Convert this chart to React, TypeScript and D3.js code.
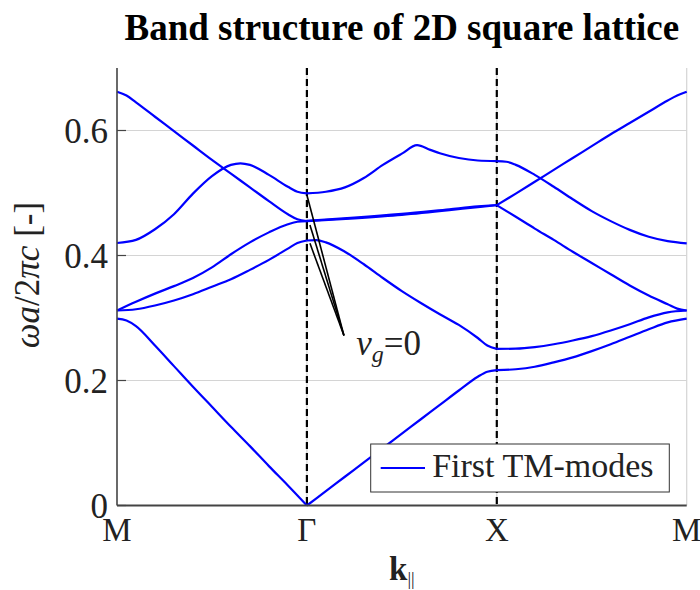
import React from "react";
import * as d3 from "d3";

// high-symmetry points along the path
const kLabels = ["M", "Γ", "X", "M"];
const yTicks = [0, 0.2, 0.4, 0.6];

// bands on each segment, as [t along segment, ωa/2πc]
const segMG = [
  [[0, 0.299], [0.05, 0.296], [0.1, 0.287], [0.2, 0.256], [0.3, 0.223], [0.4, 0.19], [0.5, 0.158], [0.6, 0.126], [0.7, 0.095], [0.8, 0.063], [0.9, 0.032], [1, 0]],
  [[0, 0.312], [0.1, 0.314], [0.2, 0.32], [0.3, 0.328], [0.4, 0.338], [0.5, 0.35], [0.6, 0.362], [0.7, 0.377], [0.8, 0.393], [0.9, 0.411], [0.95, 0.42], [1, 0.424]],
  [[0, 0.312], [0.1, 0.326], [0.2, 0.339], [0.3, 0.351], [0.4, 0.364], [0.5, 0.381], [0.6, 0.402], [0.7, 0.421], [0.8, 0.437], [0.9, 0.45], [0.95, 0.454], [1, 0.455]],
  [[0, 0.42], [0.1, 0.425], [0.2, 0.442], [0.3, 0.466], [0.4, 0.499], [0.5, 0.527], [0.6, 0.545], [0.65, 0.5475], [0.7, 0.545], [0.8, 0.529], [0.9, 0.51], [0.95, 0.502], [1, 0.4995]],
  [[0, 0.662], [0.05, 0.656], [0.1, 0.645], [0.2, 0.622], [0.3, 0.599], [0.4, 0.576], [0.5, 0.553], [0.6, 0.531], [0.7, 0.509], [0.8, 0.487], [0.9, 0.466], [0.95, 0.458], [1, 0.455]],
];

const segGX = [
  [[0, 0], [0.1, 0.023], [0.2, 0.046], [0.3, 0.069], [0.4, 0.092], [0.5, 0.115], [0.6, 0.138], [0.7, 0.161], [0.8, 0.184], [0.9, 0.206], [0.95, 0.214], [1, 0.2165]],
  [[0, 0.424], [0.05, 0.4245], [0.1, 0.421], [0.2, 0.406], [0.3, 0.386], [0.4, 0.364], [0.5, 0.343], [0.6, 0.324], [0.7, 0.306], [0.8, 0.289], [0.9, 0.268], [0.95, 0.256], [1, 0.2505]],
  [[0, 0.455], [0.25, 0.4595], [0.5, 0.465], [0.75, 0.4725], [0.9, 0.4775], [1, 0.4805]],
  [[0, 0.4555], [0.25, 0.4605], [0.5, 0.4665], [0.75, 0.474], [0.9, 0.4785], [1, 0.4808]],
  [[0, 0.4995], [0.1, 0.502], [0.2, 0.509], [0.3, 0.524], [0.4, 0.545], [0.5, 0.563], [0.58, 0.5765], [0.65, 0.569], [0.7, 0.5635], [0.8, 0.556], [0.9, 0.552], [1, 0.551]],
];

const segXM = [
  [[0, 0.2165], [0.1, 0.218], [0.2, 0.222], [0.3, 0.229], [0.4, 0.237], [0.5, 0.247], [0.6, 0.258], [0.7, 0.27], [0.8, 0.282], [0.9, 0.293], [1, 0.299]],
  [[0, 0.2505], [0.1, 0.251], [0.2, 0.2535], [0.3, 0.258], [0.4, 0.264], [0.5, 0.271], [0.6, 0.28], [0.7, 0.29], [0.8, 0.301], [0.9, 0.309], [1, 0.312]],
  [[0, 0.4805], [0.1, 0.462], [0.2, 0.443], [0.3, 0.425], [0.4, 0.406], [0.5, 0.388], [0.6, 0.37], [0.7, 0.352], [0.8, 0.336], [0.9, 0.322], [0.95, 0.315], [1, 0.312]],
  [[0, 0.4805], [0.1, 0.499], [0.2, 0.518], [0.3, 0.537], [0.4, 0.556], [0.5, 0.575], [0.6, 0.594], [0.7, 0.612], [0.8, 0.63], [0.9, 0.648], [0.95, 0.656], [1, 0.662]],
  [[0, 0.551], [0.05, 0.55], [0.1, 0.545], [0.2, 0.529], [0.3, 0.51], [0.4, 0.49], [0.5, 0.471], [0.6, 0.455], [0.7, 0.441], [0.8, 0.43], [0.9, 0.423], [1, 0.4195]],
];

// v_g = 0 arrow: tips at Γ and common tail, in (k, ω)
const vgTips = [[1.0, 0.4968], [1.016, 0.4488], [1.016, 0.4195]];
const vgTail = [1.195, 0.272];
const vgText = [1.26, 0.241];

const W = 700;
const H = 590;
const margin = { top: 68, right: 13.3, bottom: 84.5, left: 117 };
const iw = W - margin.left - margin.right;
const ih = H - margin.top - margin.bottom;
const FONT = "Liberation Serif, DejaVu Serif, serif";
const BLUE = "#0000ff";
const TXT = { fontFamily: FONT };

export default function App() {
  const x = d3.scaleLinear().domain([0, 3]).range([0, iw]);
  const y = d3.scaleLinear().domain([0, 0.7]).range([ih, 0]);

  const segments = [segMG, segGX, segXM];
  const paths: string[] = [];
  segments.forEach((seg, si) => {
    const line = d3
      .line<number[]>()
      .x((d) => x(si + d[0]))
      .y((d) => y(d[1]))
      .curve(d3.curveMonotoneX);
    seg.forEach((band) => paths.push(line(band) as string));
  });

  const legW = 298.6;
  const legH = 48;
  const legX = iw - 17.4 - legW;
  const legY = ih - 13.5 - legH;

  return (
    <svg
      width={W}
      height={H}
      style={{ position: "absolute", left: 0, top: 0, background: "#fff" }}
    >
      <text x={margin.left + iw / 2} y={39.5} textAnchor="middle" fontWeight="bold" fontSize={37} style={TXT}>
        Band structure of 2D square lattice
      </text>
      <g transform={`translate(${margin.left},${margin.top})`}>
        {/* grid */}
        {yTicks.slice(1).map((t) => (
          <line key={"gy" + t} x1={0} x2={iw} y1={y(t)} y2={y(t)} stroke="#d4d4d4" strokeWidth={1.2} />
        ))}
        {kLabels.slice(1).map((_, i) => (
          <line key={"gx" + i} x1={x(i + 1)} x2={x(i + 1)} y1={0} y2={ih} stroke="#d4d4d4" strokeWidth={1.2} />
        ))}
        {/* dashed symmetry lines */}
        {[1, 2].map((k) => (
          <line key={"d" + k} x1={x(k)} x2={x(k)} y1={0} y2={ih} stroke="#000" strokeWidth={2.2} strokeDasharray="7,4" />
        ))}
        {/* bands */}
        {paths.map((p, i) => (
          <path key={i} d={p} fill="none" stroke={BLUE} strokeWidth={2.2} />
        ))}
        {/* annotation */}
        {vgTips.map((tp, i) => (
          <line key={"a" + i} x1={x(tp[0])} y1={y(tp[1])} x2={x(vgTail[0])} y2={y(vgTail[1])} stroke="#000" strokeWidth={1.6} />
        ))}
        <text x={x(vgText[0])} y={y(vgText[1])} fontSize={35} fill="#222" style={TXT}>
          <tspan fontStyle="italic">v</tspan>
          <tspan fontStyle="italic" fontSize={24} dy={7}>g</tspan>
          <tspan dy={-7}>=0</tspan>
        </text>
        {/* axes */}
        <line x1={0} x2={0} y1={0} y2={ih} stroke="#444" strokeWidth={1.6} />
        <line x1={0} x2={iw} y1={ih} y2={ih} stroke="#444" strokeWidth={2} />
        {yTicks.map((t) => (
          <g key={"yt" + t}>
            <line x1={0} x2={9} y1={y(t)} y2={y(t)} stroke="#444" strokeWidth={1.2} />
            <text x={-9} y={y(t) + 12} textAnchor="end" fontSize={35} fill="#222" style={TXT}>
              {t === 0 ? "0" : t.toFixed(1)}
            </text>
          </g>
        ))}
        {kLabels.map((l, i) => (
          <text key={"xt" + i} x={x(i)} y={ih + 35} textAnchor="middle" fontSize={33} fill="#222" style={TXT}>
            {l}
          </text>
        ))}
        {/* legend */}
        <rect x={legX} y={legY} width={legW} height={legH} fill="#fff" stroke="#333" strokeWidth={1} />
        <line x1={legX + 10} x2={legX + 54.3} y1={legY + legH / 2} y2={legY + legH / 2} stroke={BLUE} strokeWidth={2.2} />
        <text x={legX + 61.5} y={legY + 33} fontSize={34} fill="#222" style={TXT}>
          First TM-modes
        </text>
      </g>
      {/* axis labels */}
      <text x={margin.left + iw / 2} y={580} textAnchor="middle" fontSize={33} fill="#222" style={TXT}>
        <tspan fontWeight="bold">k</tspan>
        <tspan fontSize={18} dy={5}>||</tspan>
      </text>
      <text transform={`translate(39,${margin.top + 207}) rotate(-90)`} textAnchor="middle" fontSize={35} fill="#222" style={TXT}>
        <tspan fontStyle="italic">ωa</tspan>
        <tspan>/2</tspan>
        <tspan fontStyle="italic">πc</tspan>
        <tspan> [-]</tspan>
      </text>
    </svg>
  );
}
